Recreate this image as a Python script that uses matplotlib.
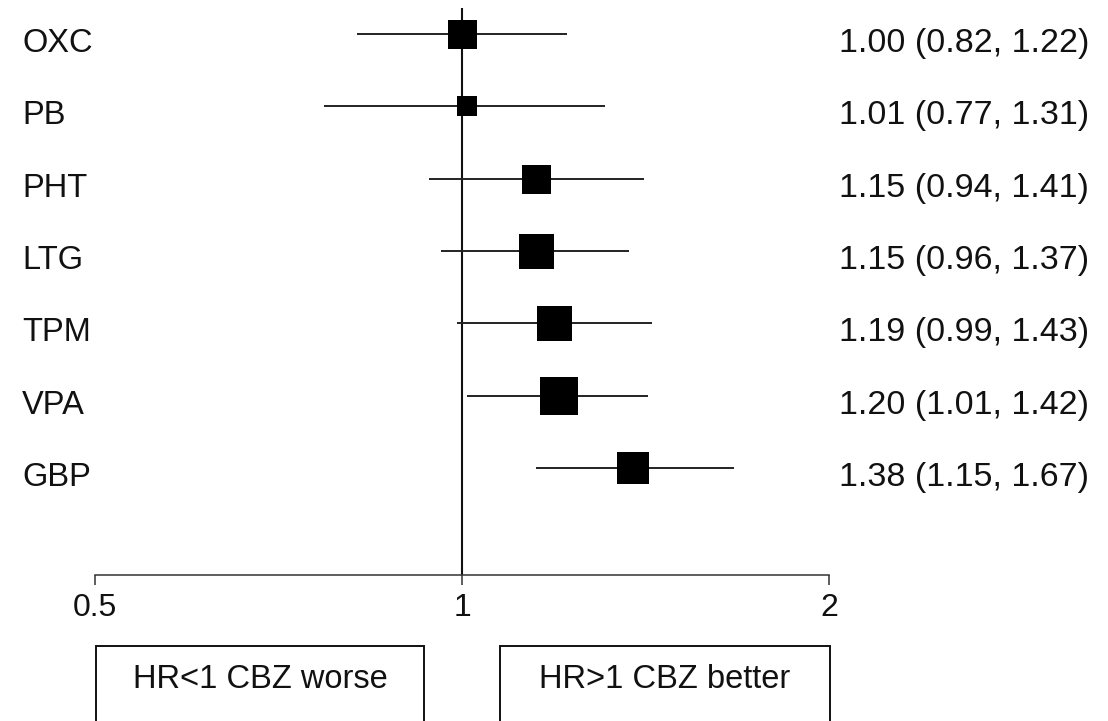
import matplotlib
matplotlib.use("Agg")
import matplotlib.pyplot as plt
import matplotlib.transforms as mtransforms
from matplotlib.patches import Rectangle
from matplotlib.ticker import NullLocator

plt.rcParams['font.family'] = ['Liberation Sans', 'DejaVu Sans']

# ---- data ----
drugs = ["OXC", "PB", "PHT", "LTG", "TPM", "VPA", "GBP"]
hr = [1.00, 1.01, 1.15, 1.15, 1.19, 1.20, 1.38]
ci_low = [0.82, 0.77, 0.94, 0.96, 0.99, 1.01, 1.15]
ci_high = [1.22, 1.31, 1.41, 1.37, 1.43, 1.42, 1.67]
weights_px = [29, 20, 29, 35, 35, 38, 32]   # square side (relative weight)
tick_values = [0.5, 1, 2]
tick_labels = ["0.5", "1", "2"]
left_box_text = "HR<1 CBZ worse"
right_box_text = "HR>1 CBZ better"

W, H, DPI = 1108, 721, 100
fig = plt.figure(figsize=(W / DPI, H / DPI), dpi=DPI)
ax = fig.add_axes([0, 0, 1, 1])
ax.set_xscale('log', base=2)
ax.set_xlim(0.4177, 3.387)
ax.set_ylim(9.498, -0.470)

rows = list(range(len(drugs)))
axis_y = 7.48
ink = '#111111'

# reference line at HR = 1
ax.plot([1, 1], [-0.36, axis_y], color=ink, lw=1.5, solid_capstyle='butt', zorder=2)

# confidence intervals and point estimates
for i, lo, hi, est, w in zip(rows, ci_low, ci_high, hr, weights_px):
    ax.plot([lo, hi], [i, i], color='#222222', lw=1.4, solid_capstyle='butt', zorder=3)
    ax.plot([est], [i], marker='s', markersize=w * 0.72, color='black',
            markeredgewidth=0, zorder=4)

# text columns
text_off = mtransforms.offset_copy(ax.transData, fig=fig, x=0, y=-13.0, units='points')
for i, name, est, lo, hi in zip(rows, drugs, hr, ci_low, ci_high):
    y_disp = text_off.transform((1, i))[1]
    yfig = y_disp / H
    fig.text(22 / W, yfig, name, fontsize=23.5, va='baseline', ha='left', color='#111111')
    fig.text(839 / W, yfig, f"{est:.2f} ({lo:.2f}, {hi:.2f})", fontsize=24.5,
             va='baseline', ha='left', color='#111111')

# x axis
for s in ['top', 'left', 'right']:
    ax.spines[s].set_visible(False)
ax.spines['bottom'].set_position(('data', axis_y))
ax.spines['bottom'].set_bounds(0.5, 2)
ax.spines['bottom'].set_color('#333333')
ax.spines['bottom'].set_linewidth(1.1)
ax.set_xticks(tick_values)
ax.set_xticklabels(tick_labels)
ax.xaxis.set_minor_locator(NullLocator())
ax.tick_params(axis='x', direction='out', length=7.2, width=1.1, color='#333333',
               pad=6, labelsize=23, labelcolor='#111111')
ax.set_yticks([])
ax.patch.set_visible(False)

# bottom boxes (figure pixel layout)
for (x0, x1, txt) in [(96, 424, left_box_text), (500, 830, right_box_text)]:
    top = 1 - 646 / H
    rect = Rectangle((x0 / W, -0.1), (x1 - x0) / W, top + 0.1,
                     transform=fig.transFigure, fill=False, edgecolor='#111111',
                     lw=1.4, clip_on=False)
    fig.patches.append(rect)
    fig.text((x0 + x1) / 2 / W, 1 - 688 / H, txt, fontsize=23.5, ha='center',
             va='baseline', color='#111111')

fig.savefig("out.png", dpi=DPI)
